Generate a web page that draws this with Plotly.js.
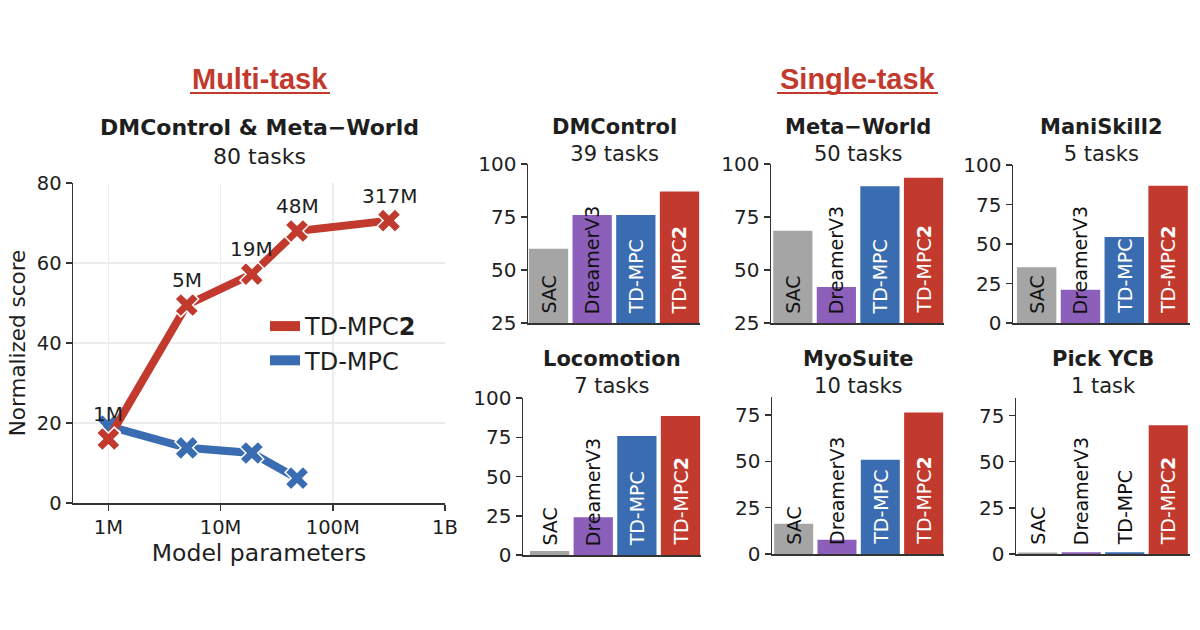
<!DOCTYPE html>
<html><head><meta charset="utf-8">
<script src="https://cdn.plot.ly/plotly-3.0.1.min.js"></script>
<style>html,body{margin:0;padding:0;background:#fff}#chart{width:1200px;height:630px}</style>
</head><body><div id="chart"></div>
<script>
// ---- Multi-task data ----
const paramCounts = [1e6, 5e6, 19e6, 48e6, 317e6];
const paramLabels = ['1M', '5M', '19M', '48M', '317M'];
const tdmpc2Multi = [16, 49.5, 57.2, 68, 70.6];
const tdmpcMulti = [19.2, 13.8, 12.5, 6.2];
const xTickVals = [1e6, 1e7, 1e8, 1e9];
const xTickText = ['1M', '10M', '100M', '1B'];
const yTickVals = [0, 20, 40, 60, 80];

// ---- Single-task data ----
const methods = ['SAC', 'DreamerV3', 'TD-MPC', 'TD-MPC2'];
const methodLabels = ['SAC', 'DreamerV3', 'TD-MPC', 'TD-MPC<b>2</b>'];
const benchmarks = ['DMControl', 'Meta\u2212World', 'ManiSkill2', 'Locomotion', 'MyoSuite', 'Pick YCB'];
const taskCounts = ['39 tasks', '50 tasks', '5 tasks', '7 tasks', '10 tasks', '1 task'];
const sacScores = [60, 68.5, 35.3, 2.5, 16.3, 0.8];
const dreamerScores = [76, 42, 21, 24, 7.7, 1];
const tdmpcScores = [76, 89.5, 54.5, 75.8, 50.8, 1];
const tdmpc2Scores = [87, 93.5, 86.8, 88.5, 76.3, 69.8];

const RED = '#c23a2d', BLUE = '#3a6cb1', PURPLE = '#8c5fbb', GRAY = '#a5a5a5';
const methodColors = [GRAY, PURPLE, BLUE, RED];
const AX = '#333333';
const TXT = '#1e1e1e';
const FONT = 'DejaVu Sans';
const W = 1200, H = 630;
const px = v => v / W;
const py = v => 1 - v / H;

const traces = [];
// TD-MPC line (drawn first, under red)
traces.push({
  type: 'scatter', mode: 'lines+markers', xaxis: 'x', yaxis: 'y',
  x: paramCounts.slice(0, tdmpcMulti.length), y: tdmpcMulti,
  line: {color: BLUE, width: 8},
  marker: {symbol: 'x', size: 21, color: BLUE, line: {color: 'white', width: 1.5}},
  showlegend: false, cliponaxis: false
});
traces.push({
  type: 'scatter', mode: 'lines+markers', xaxis: 'x', yaxis: 'y',
  x: paramCounts, y: tdmpc2Multi,
  line: {color: RED, width: 8},
  marker: {symbol: 'x', size: 21, color: RED, line: {color: 'white', width: 1.5}},
  showlegend: false, cliponaxis: false
});
// legend entries (lines only)
traces.push({type: 'scatter', mode: 'lines', xaxis: 'x', yaxis: 'y', x: [null], y: [null],
  name: 'TD-MPC<b>2</b>', line: {color: RED, width: 10}, legendrank: 1});
traces.push({type: 'scatter', mode: 'lines', xaxis: 'x', yaxis: 'y', x: [null], y: [null],
  name: 'TD-MPC', line: {color: BLUE, width: 10}, legendrank: 2});

const layout = {
  width: W, height: H,
  margin: {l: 0, r: 0, t: 0, b: 0},
  paper_bgcolor: 'white', plot_bgcolor: 'white',
  font: {family: FONT, color: TXT},
  bargap: 0.1,
  showlegend: true,
  legend: {x: px(265), y: py(304), xanchor: 'left', yanchor: 'top',
    bgcolor: 'rgba(0,0,0,0)', font: {family: FONT, size: 24, color: TXT},
    traceorder: 'normal'},
  xaxis: {
    type: 'log', domain: [px(73), px(445)], range: [5.685, 9.0], anchor: 'y',
    tickvals: xTickVals, ticktext: xTickText,
    ticks: 'outside', ticklen: 6, tickwidth: 1.5, tickcolor: AX,
    showline: true, linecolor: AX, linewidth: 1.5,
    showgrid: true, gridcolor: '#ececec', gridwidth: 1.5, zeroline: false,
    tickfont: {family: FONT, size: 19.5, color: TXT},
    title: {text: 'Model parameters', font: {family: FONT, size: 23.5, color: TXT}, standoff: 4}
  },
  yaxis: {
    domain: [py(503), py(183)], range: [0, 80], anchor: 'x',
    tickvals: yTickVals,
    ticks: 'outside', ticklen: 6, tickwidth: 1.5, tickcolor: AX,
    showline: true, linecolor: AX, linewidth: 1.5,
    showgrid: true, gridcolor: '#ececec', gridwidth: 1.5, zeroline: false,
    tickfont: {family: FONT, size: 19.5, color: TXT},
    title: {text: 'Normalized score', font: {family: FONT, size: 21.5, color: TXT}, standoff: 5}
  },
  annotations: [],
  shapes: []
};

// parameter-count labels above TD-MPC2 points
paramCounts.forEach((p, i) => {
  layout.annotations.push({
    xref: 'x', yref: 'y', x: Math.log10(p), y: tdmpc2Multi[i], yshift: 25,
    text: paramLabels[i], showarrow: false,
    font: {family: FONT, size: 20, color: TXT}, xanchor: 'center', yanchor: 'middle'
  });
});

// left subplot title
layout.annotations.push({
  xref: 'paper', yref: 'paper', x: px(259), y: py(142), xanchor: 'center', yanchor: 'middle',
  text: '<b>DMControl & Meta\u2212World</b><br>80 tasks', showarrow: false,
  font: {family: FONT, size: 22, color: TXT}
});

// section headers
const headers = [{text: 'Multi-task', cx: 260, x0: 190, x1: 330}, {text: 'Single-task', cx: 857.5, x0: 777, x1: 938}];
headers.forEach(h => {
  layout.annotations.push({
    xref: 'paper', yref: 'paper', x: px(h.cx), y: py(79), xanchor: 'center', yanchor: 'middle',
    text: '<b>' + h.text + '</b>', showarrow: false,
    font: {family: 'Liberation Sans', size: 29, color: RED}
  });
  layout.shapes.push({type: 'line', xref: 'paper', yref: 'paper',
    x0: px(h.x0), x1: px(h.x1), y0: py(93), y1: py(93), line: {color: RED, width: 2.2}});
});

// bar subplots geometry
const panels = [
  {x0: 528, x1: 700, y0: 323, y1: 164, xr: [-0.47, 3.47], yr: [25, 100], ty: 140},
  {x0: 771, x1: 944, y0: 323, y1: 164, xr: [-0.5, 3.47], yr: [25, 100], ty: 140},
  {x0: 1013, x1: 1190, y0: 323, y1: 165, xr: [-0.54, 3.5], yr: [0, 100], ty: 140},
  {x0: 523, x1: 701, y0: 555, y1: 398, xr: [-0.61, 3.47], yr: [0, 100], ty: 372},
  {x0: 772, x1: 944, y0: 554, y1: 397, xr: [-0.5, 3.47], yr: [0, 84.7], ty: 372},
  {x0: 1016, x1: 1190, y0: 554, y1: 398, xr: [-0.5, 3.5], yr: [0, 84.5], ty: 372}
];

benchmarks.forEach((b, i) => {
  const k = i + 2;
  const xa = 'x' + k, ya = 'y' + k;
  const vals = [sacScores[i], dreamerScores[i], tdmpcScores[i], tdmpc2Scores[i]];
  const P = panels[i];
  traces.push({
    type: 'bar', xaxis: xa, yaxis: ya, x: methods, y: vals,
    marker: {color: methodColors, line: {width: 0}},
    showlegend: false, hoverinfo: 'x+y'
  });
  layout['xaxis' + k] = {
    domain: [px(P.x0), px(P.x1)], range: P.xr, anchor: ya, type: 'category',
    showline: true, linecolor: AX, linewidth: 1.5, ticks: '', showticklabels: false,
    showgrid: false, zeroline: false
  };
  layout['yaxis' + k] = {
    domain: [py(P.y0), py(P.y1)], range: P.yr, anchor: xa,
    tick0: 0, dtick: 25,
    ticks: 'outside', ticklen: 6, tickwidth: 1.5, tickcolor: AX,
    showline: true, linecolor: AX, linewidth: 1.5,
    showgrid: false, zeroline: false,
    tickfont: {family: FONT, size: 20, color: TXT}
  };
  layout.annotations.push({
    xref: 'paper', yref: 'paper', x: (px(P.x0) + px(P.x1)) / 2, y: py(P.ty),
    xanchor: 'center', yanchor: 'middle', showarrow: false,
    text: '<b>' + b + '</b><br>' + taskCounts[i],
    font: {family: FONT, size: 21, color: TXT}
  });
  methods.forEach((m, j) => {
    const white = j >= 2 && vals[j] > 30;
    layout.annotations.push({
      xref: xa, yref: ya + ' domain', x: m, y: 0, yshift: 7,
      xanchor: 'center', yanchor: 'bottom', textangle: -90, showarrow: false,
      text: methodLabels[j],
      font: {family: FONT, size: 19, color: white ? 'white' : '#111111'}
    });
  });
});

Plotly.newPlot('chart', traces, layout, {staticPlot: true, displayModeBar: false});
</script>
</body></html>
